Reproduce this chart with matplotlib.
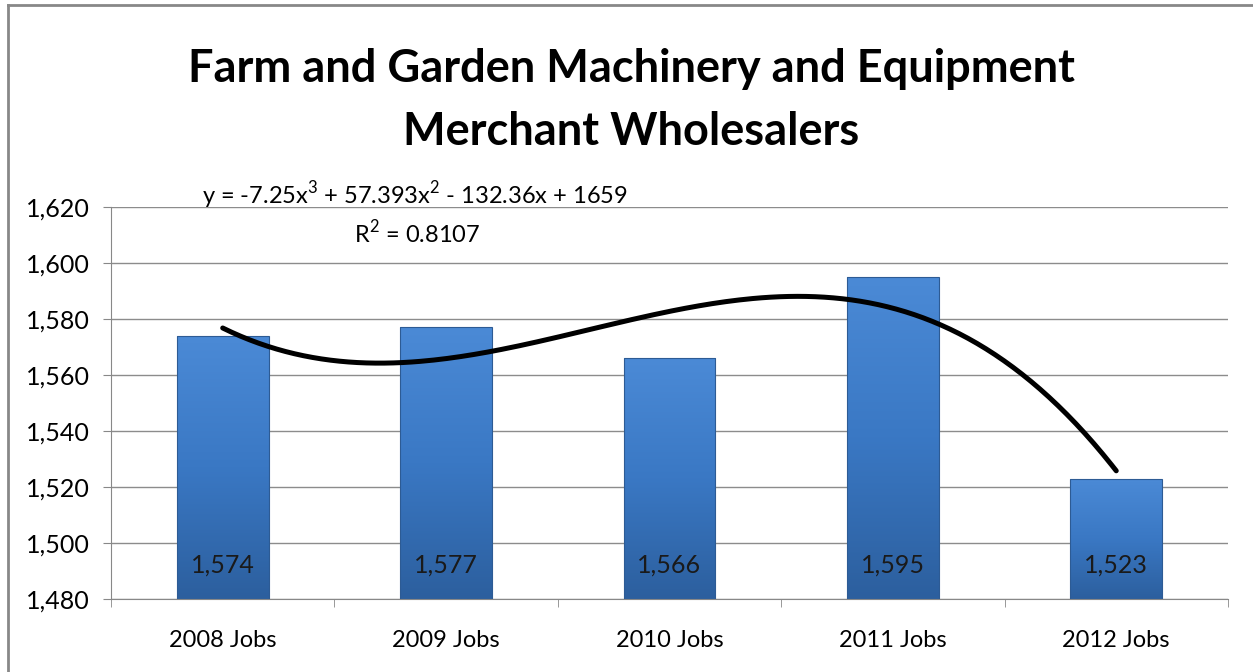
import numpy as np
import matplotlib.pyplot as plt
from matplotlib.patches import Rectangle
from matplotlib.lines import Line2D
from matplotlib.colors import LinearSegmentedColormap

# data
categories = ['2008 Jobs', '2009 Jobs', '2010 Jobs', '2011 Jobs', '2012 Jobs']
jobs = [1574, 1577, 1566, 1595, 1523]
title = 'Farm and Garden Machinery and Equipment\nMerchant Wholesalers'
eq_text = 'y = -7.25x$^3$ + 57.393x$^2$ - 132.36x + 1659'
r2_text = 'R$^2$ = 0.8107'

plt.rcParams['font.family'] = ['Lato', 'DejaVu Sans']
plt.rcParams['mathtext.fontset'] = 'custom'
plt.rcParams['mathtext.rm'] = 'Lato'

fig = plt.figure(figsize=(12.53, 6.72), dpi=100)
ax = fig.add_axes([0.0886, 0.1086, 0.8914, 0.5834])

ymin, ymax = 1480, 1620
x = np.arange(len(jobs))
bar_w = 0.41

# gradient bars
cmap = LinearSegmentedColormap.from_list('blu', ['#2c5f9e', '#3a78c4', '#4b8ad6'])
grad = np.linspace(0, 1, 256).reshape(-1, 1)
for i, v in enumerate(jobs):
    x0 = i - bar_w / 2
    im = ax.imshow(grad, cmap=cmap, origin='lower', aspect='auto',
                   extent=[x0, x0 + bar_w, ymin, v], zorder=2)
    rect = Rectangle((x0, ymin), bar_w, v - ymin, facecolor='none',
                     edgecolor='#2d5b94', lw=0.8, zorder=3)
    ax.add_patch(rect)
    im.set_clip_path(rect)
    ax.text(i, 1492, f'{v:,}', ha='center', va='center', fontsize=18,
            color='#1a1a1a', zorder=4)

# cubic trendline fitted to the data
xs = np.arange(1, len(jobs) + 1)
coef = np.polyfit(xs, jobs, 3)
xf = np.linspace(1, len(jobs), 200)
ax.plot(xf - 1, np.polyval(coef, xf), color='black', lw=3.6, zorder=5,
        solid_capstyle='round')

ax.set_xlim(-0.5, len(jobs) - 0.5)
ax.set_ylim(ymin, ymax)
ax.set_yticks(np.arange(ymin, ymax + 1, 20))
ax.yaxis.set_major_formatter(plt.FuncFormatter(lambda v, p: f'{int(v):,}'))
ax.set_xticks(x)
ax.set_xticklabels(categories)
ax.set_xticks(np.arange(-0.5, len(jobs), 1), minor=True)
ax.tick_params(axis='x', which='major', length=0, pad=22, labelsize=17)
ax.tick_params(axis='x', which='minor', length=6, color='#888888')
ax.tick_params(axis='y', length=6, color='#888888', labelsize=18, pad=9)
ax.grid(axis='y', color='#8c8c8c', lw=1)
ax.set_axisbelow(True)
for s in ['top', 'right']:
    ax.spines[s].set_visible(False)
for s in ['left', 'bottom']:
    ax.spines[s].set_color('#888888')

fig.text(0.504, 0.85, title, ha='center', va='center', fontsize=32.5,
         fontweight='bold', linespacing=1.62)
fig.text(0.331, 0.71, eq_text, ha='center', va='center', fontsize=17)
fig.text(0.333, 0.653, r2_text, ha='center', va='center', fontsize=17)

# chart area border (top and left visible)
fig.add_artist(Line2D([0.006, 0.006], [0, 0.993], transform=fig.transFigure,
                      color='#888888', lw=2))
fig.add_artist(Line2D([0.006, 1], [0.993, 0.993], transform=fig.transFigure,
                      color='#888888', lw=2))

fig.savefig('out.png', dpi=100)
